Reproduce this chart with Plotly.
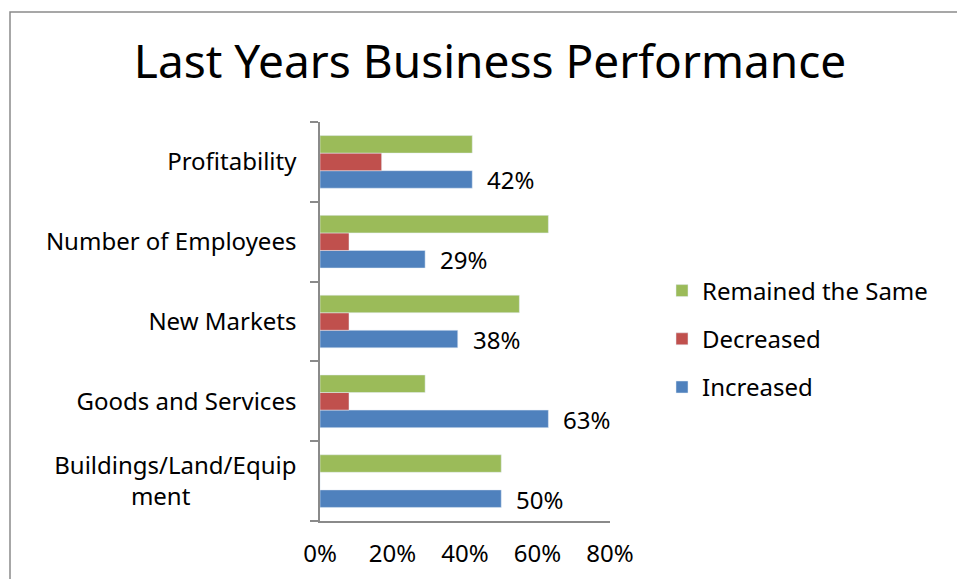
import plotly.graph_objects as go

categories = ["Buildings/Land/Equip<br>ment", "Goods and Services", "New Markets",
              "Number of Employees", "Profitability"]
increased = [0.50, 0.63, 0.38, 0.29, 0.42]
decreased = [0.0, 0.08, 0.08, 0.08, 0.17]
remained = [0.50, 0.29, 0.55, 0.63, 0.42]

# multi-line label: centre second line under the first by padding
cat_labels = list(categories)
cat_labels[0] = "Buildings/Land/Equip<br>ment" + "\u00a0" * 17

W, H = 957, 579
L, R, T, B = 320, 347, 122, 58
pw, ph = W - L - R, H - T - B

font = "Noto Sans"
FS = 24
fig = go.Figure()
fig.add_trace(go.Bar(y=cat_labels, x=increased, orientation="h", name="Increased",
                     marker=dict(color="#4F81BD"), legendgroup="a", legendrank=3))
fig.add_trace(go.Bar(y=cat_labels, x=decreased, orientation="h", name="Decreased",
                     marker=dict(color="#C0504D"), legendgroup="b", legendrank=2))
fig.add_trace(go.Bar(y=cat_labels, x=remained, orientation="h", name="Remained the Same",
                     marker=dict(color="#9BBB59"), legendgroup="c", legendrank=1))

for cat, v in zip(cat_labels, increased):
    fig.add_annotation(x=v, y=cat, text=f"{round(v*100)}%", showarrow=False,
                       xanchor="left", yshift=-18, xshift=13,
                       font=dict(size=FS, color="black", family=font))

fig.add_shape(type="rect", xref="paper", yref="paper",
              x0=(10 - L) / pw, x1=3, y0=-2, y1=(H - B - 12) / ph,
              line=dict(color="#8a8a8a", width=1.5), fillcolor="rgba(0,0,0,0)", layer="below")

fig.update_layout(
    width=W, height=H,
    margin=dict(l=L, r=R, t=T, b=B, autoexpand=False),
    paper_bgcolor="white", plot_bgcolor="white",
    barmode="group", bargap=0.34, bargroupgap=0,
    title=dict(text="Last Years Business Performance", x=490 / W, xanchor="center",
               y=1 - 62 / H, yanchor="middle",
               font=dict(size=46, color="black", family=font)),
    font=dict(family=font, size=FS, color="black"),
    legend=dict(x=(662 - L) / pw, xanchor="left", y=(H - B - 339) / ph, yanchor="middle",
                traceorder="grouped", tracegroupgap=14,
                font=dict(size=FS, family=font), itemwidth=30),
    showlegend=True,
)
fig.update_xaxes(range=[0, 0.8], dtick=0.2, tickformat=".0%", showgrid=False,
                 showline=True, linecolor="#8a8a8a", linewidth=1.5, ticks="",
                 ticklabelstandoff=10, zeroline=False,
                 tickfont=dict(size=FS, family=font))
fig.update_yaxes(showgrid=False, showline=True, linecolor="#8a8a8a", linewidth=1.5,
                 ticks="outside", ticklen=8, tickcolor="#8a8a8a", tickwidth=1.5,
                 tickson="boundaries", ticklabelstandoff=17,
                 tickfont=dict(size=FS, family=font))

html = fig.to_html(include_plotlyjs=True, full_html=True,
                   config={"displayModeBar": False})
html = html.replace("<head>", "<head><style>html,body{margin:0;padding:0;}</style>", 1)
with open("out.html", "w", encoding="utf-8") as f:
    f.write(html)
